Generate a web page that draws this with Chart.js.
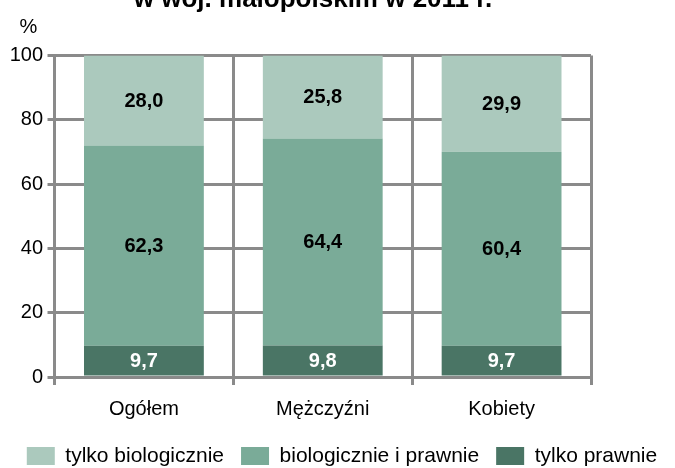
<!DOCTYPE html>
<html>
<head>
<meta charset="utf-8">
<script src="https://cdn.jsdelivr.net/npm/chart.js@4/dist/chart.umd.min.js"></script>
<style>
  html, body { margin: 0; padding: 0; background: #fff; }
  #wrap { position: relative; width: 675px; height: 468px; overflow: hidden; }
  canvas { display: block; }
</style>
</head>
<body>
<div id="wrap"><canvas id="c" width="675" height="468"></canvas></div>
<script>
// ---- data ----
const categories = ['Ogółem', 'Mężczyźni', 'Kobiety'];
const tylkoPrawnie = [9.7, 9.8, 9.7];
const biologicznieIPrawnie = [62.3, 64.4, 60.4];
const tylkoBiologicznie = [28.0, 25.8, 29.9];
const seriesNames = ['tylko prawnie', 'biologicznie i prawnie', 'tylko biologicznie'];
const yMin = 0, yMax = 100, yStep = 20;
const titleText = 'w woj. małopolskim w 2011 r.';
const unitText = '%';

// ---- styles ----
const FONT = "'Liberation Sans', Arial, Helvetica, sans-serif";
const GRID = '#8a8a8a';
const colors = ['#4a7565', '#7aab98', '#abc9bd'];
const labelColors = ['#ffffff', '#000000', '#000000'];

Chart.defaults.font.family = FONT;
Chart.defaults.color = '#000';

const fmt = v => v.toFixed(1).replace('.', ',');

const valueLabels = {
  id: 'valueLabels',
  afterDatasetsDraw(chart) {
    const ctx = chart.ctx;
    ctx.save();
    ctx.font = 'bold 20px ' + FONT;
    ctx.textAlign = 'center';
    ctx.textBaseline = 'middle';
    chart.data.datasets.forEach((ds, di) => {
      const meta = chart.getDatasetMeta(di);
      meta.data.forEach((el, i) => {
        const p = el.getCenterPoint();
        ctx.fillStyle = labelColors[di];
        ctx.fillText(fmt(ds.data[i]), p.x, p.y + 1);
      });
    });
    ctx.restore();
  }
};

const extraText = {
  id: 'extraText',
  afterDraw(chart) {
    const ctx = chart.ctx;
    const area = chart.chartArea;
    ctx.save();
    ctx.fillStyle = '#000';
    ctx.textBaseline = 'alphabetic';
    ctx.textAlign = 'center';
    ctx.font = 'bold 26px ' + FONT;
    ctx.fillText(titleText, 313, 7);
    ctx.textAlign = 'left';
    ctx.font = '20px ' + FONT;
    ctx.fillText(unitText, area.left - 35, area.top - 23);
    ctx.restore();
  }
};

new Chart(document.getElementById('c'), {
  type: 'bar',
  data: {
    labels: categories,
    datasets: [
      { label: seriesNames[0], data: tylkoPrawnie, backgroundColor: colors[0] },
      { label: seriesNames[1], data: biologicznieIPrawnie, backgroundColor: colors[1] },
      { label: seriesNames[2], data: tylkoBiologicznie, backgroundColor: colors[2] }
    ]
  },
  options: {
    responsive: false,
    animation: false,
    devicePixelRatio: 1,
    layout: { padding: { top: 55.5, left: 9, right: 0, bottom: -8.5 } },
    datasets: { bar: { categoryPercentage: 1, barPercentage: 0.67, borderWidth: 0 } },
    plugins: {
      title: { display: false },
      tooltip: { enabled: false },
      legend: {
        position: 'bottom',
        reverse: true,
        labels: {
          boxWidth: 28,
          boxHeight: 18,
          padding: 17,
          color: '#000',
          font: { size: 21, family: FONT }
        }
      }
    },
    scales: {
      x: {
        stacked: true,
        grid: { display: true, offset: true, color: GRID, lineWidth: 3, tickLength: 8, drawTicks: true },
        border: { display: true, color: GRID, width: 3 },
        ticks: { font: { size: 20 }, color: '#000', padding: 12 },
        afterFit(scale) { scale.height = 51.5; }
      },
      y: {
        stacked: true,
        min: yMin,
        max: yMax,
        grid: { color: GRID, lineWidth: 3, tickLength: 7, drawTicks: true },
        border: { display: true, color: GRID, width: 3 },
        ticks: { stepSize: yStep, font: { size: 20 }, color: '#000', padding: 4.5 },
        afterFit(scale) { scale.width = 45.5; }
      },
      yRight: {
        position: 'right',
        display: true,
        grid: { display: false },
        border: { display: false },
        ticks: { display: false },
        afterFit(scale) { scale.width = 84; }
      }
    }
  },
  plugins: [valueLabels, extraText]
});
</script>
</body>
</html>
